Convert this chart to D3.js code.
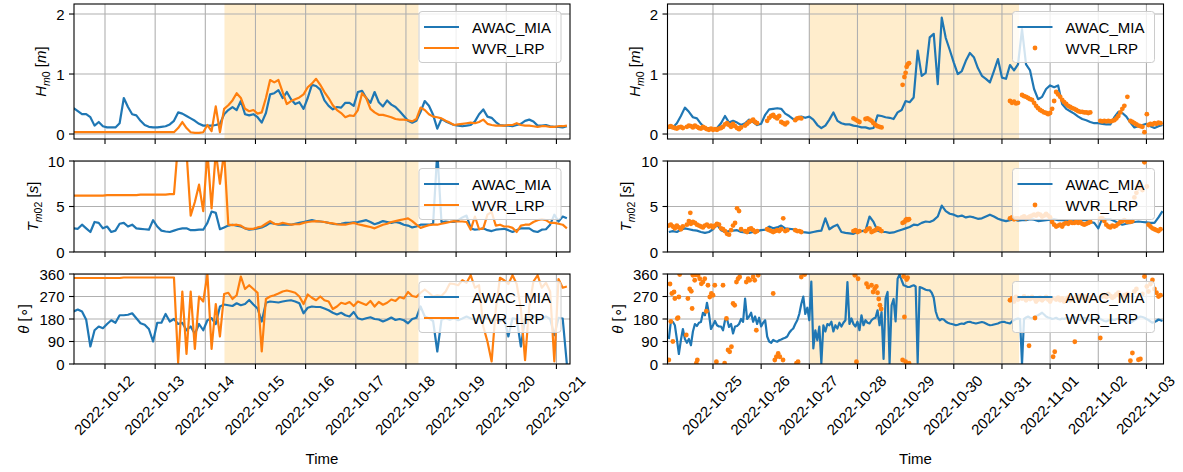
<!DOCTYPE html>
<html>
<head>
<meta charset="utf-8">
<script src="https://cdn.jsdelivr.net/npm/d3@7"></script>
<style>
  body { margin: 0; background: #fff; }
  svg { display: block; font-family: "Liberation Sans", Arial, sans-serif; }
</style>
</head>
<body>
<div id="chart"></div>
<script>
// ---- data ----
// left column: one value every 2 h from 2022-10-11 09:00
// right column: one value every 2 h from 2022-10-24 02:00 (direction: every 1 h)
// WVR_LRP on the right is scattered: [hours since 2022-10-24 02:00, value]

const hsAwacL = [0.43,0.38,0.33,0.33,0.28,0.14,0.20,0.13,0.11,0.11,
  0.11,0.18,0.60,0.45,0.33,0.31,0.22,0.15,0.12,0.11,
  0.11,0.12,0.13,0.16,0.22,0.36,0.34,0.30,0.26,0.22,
  0.17,0.14,0.14,0.14,0.15,0.17,0.33,0.40,0.45,0.40,
  0.55,0.33,0.31,0.33,0.28,0.19,0.35,0.66,0.68,0.73,
  0.60,0.70,0.58,0.50,0.53,0.42,0.60,0.82,0.80,0.74,
  0.56,0.47,0.41,0.45,0.44,0.52,0.52,0.47,0.70,0.72,
  0.60,0.52,0.70,0.53,0.46,0.56,0.49,0.45,0.38,0.30,
  0.22,0.19,0.22,0.37,0.55,0.47,0.32,0.09,0.25,0.21,
  0.18,0.15,0.14,0.13,0.14,0.15,0.21,0.33,0.41,0.29,
  0.27,0.20,0.15,0.14,0.14,0.13,0.15,0.17,0.22,0.24,
  0.21,0.14,0.14,0.15,0.13,0.12,0.12,0.11,0.13];

const hsWvrL = [0.03,0.03,0.03,0.03,0.03,0.03,0.03,0.03,0.03,0.03,
  0.03,0.03,0.03,0.03,0.03,0.03,0.03,0.03,0.03,0.03,
  0.03,0.03,0.03,0.03,0.03,0.10,0.20,0.10,0.03,0.02,
  0.02,0.03,0.15,0.05,0.46,0.03,0.42,0.48,0.56,0.68,
  0.60,0.42,0.38,0.40,0.34,0.36,0.60,0.90,0.86,0.90,
  0.70,0.50,0.55,0.58,0.61,0.66,0.78,0.84,0.92,0.82,
  0.70,0.60,0.48,0.40,0.35,0.28,0.31,0.30,0.40,0.68,
  0.60,0.42,0.36,0.32,0.32,0.30,0.28,0.25,0.24,0.24,
  0.23,0.21,0.25,0.44,0.40,0.33,0.29,0.28,0.26,0.22,
  0.19,0.15,0.16,0.17,0.18,0.19,0.18,0.20,0.24,0.17,
  0.15,0.14,0.14,0.14,0.15,0.15,0.18,0.15,0.14,0.14,
  0.13,0.12,0.13,0.13,0.12,0.12,0.13,0.13,0.14];

const tpAwacL = [2.6,2.55,3.0,2.6,2.2,3.3,3.2,2.6,2.8,2.2,
  2.35,3.1,3.2,2.8,3.0,2.6,2.55,2.5,2.45,3.5,
  2.8,2.35,2.25,2.2,2.35,2.5,2.6,2.6,2.4,2.4,
  2.45,2.45,3.2,4.45,4.3,2.5,2.7,2.9,3.0,2.9,
  2.8,2.6,2.45,2.5,2.6,2.7,2.9,3.2,3.1,3.0,
  3.0,3.0,3.0,3.1,3.2,3.3,3.4,3.5,3.4,3.35,
  3.3,3.2,3.1,3.05,3.1,3.2,3.2,3.25,3.3,3.4,
  3.5,3.3,3.05,3.2,3.4,3.3,3.2,3.3,3.2,3.0,
  2.9,2.7,2.8,3.0,3.0,3.0,3.1,11,3.3,3.35,
  3.3,3.3,3.5,3.8,4.0,2.6,2.45,2.5,2.6,2.4,
  2.3,2.45,2.5,2.55,2.4,2.2,2.4,2.6,2.6,2.6,
  2.3,2.2,2.45,2.5,3.0,4.1,3.35,3.9,3.7];

const tpWvrL = [6.2,6.2,6.2,6.2,6.2,6.2,6.2,6.2,6.25,6.25,
  6.25,6.25,6.25,6.25,6.25,6.25,6.3,6.3,6.3,6.3,
  6.3,6.3,6.3,6.35,6.35,12,12,11,4.0,5.5,
  7.4,4.5,11,4.8,11,7.5,11,3.0,2.95,3.0,
  2.9,2.6,2.55,2.55,2.7,2.8,3.1,3.4,3.1,3.05,
  3.2,3.1,3.0,3.05,3.05,3.2,3.3,3.35,3.4,3.35,
  3.3,3.2,3.15,3.05,3.0,3.0,3.1,3.2,3.05,2.95,
  2.85,2.75,2.6,2.8,3.0,3.1,3.3,3.4,3.5,3.6,
  3.7,3.4,3.0,2.65,2.8,2.95,3.0,3.0,3.1,3.2,
  3.3,3.4,3.35,3.35,3.3,2.45,3.9,2.5,2.6,4.1,
  4.4,2.9,3.0,2.8,2.8,2.65,2.2,2.9,3.0,3.0,
  3.3,3.5,3.6,3.5,3.2,3.2,3.1,3.0,2.6];

const thAwacL = [210,218,210,177,70,135,150,143,160,175,
  165,195,195,197,203,183,163,157,140,90,
  165,165,200,170,180,160,165,135,150,120,
  160,135,175,183,160,230,238,235,232,243,
  235,240,256,238,222,170,245,250,248,246,
  250,253,255,250,243,203,225,230,228,228,
  222,215,205,198,205,195,190,208,183,178,
  183,187,180,178,170,177,186,176,180,175,
  163,180,185,230,190,183,172,50,177,183,
  177,183,175,182,190,182,177,183,190,182,
  177,178,172,183,110,183,180,70,183,187,
  193,183,179,190,180,115,185,182,0];

const thWvrL = [344,344,344,344,344,344,344,344,344,344,
  344,344,346,346,346,346,346,346,346,346,
  346,346,346,346,346,5,290,40,290,60,
  270,250,360,60,240,110,280,285,260,275,
  350,300,315,300,285,50,260,270,275,282,
  290,294,290,285,270,240,278,265,255,270,
  255,250,220,230,245,240,248,232,250,243,
  236,252,230,248,237,245,258,252,268,262,
  288,272,268,285,298,285,270,275,272,290,
  322,320,315,335,325,355,305,315,150,90,
  10,220,345,335,320,355,320,220,15,230,
  330,355,305,325,290,10,340,305,310];

const hsAwacR = [0.10,0.11,0.18,0.30,0.44,0.37,0.28,0.26,0.17,0.10,
  0.10,0.08,0.10,0.18,0.30,0.19,0.22,0.19,0.15,0.18,
  0.24,0.20,0.15,0.17,0.32,0.41,0.42,0.43,0.42,0.34,
  0.30,0.25,0.26,0.29,0.27,0.29,0.24,0.15,0.10,0.14,
  0.24,0.36,0.22,0.18,0.16,0.16,0.14,0.13,0.11,0.11,
  0.09,0.10,0.31,0.30,0.28,0.27,0.25,0.36,0.40,0.55,
  0.53,0.61,1.39,0.97,1.02,1.61,1.67,0.83,1.94,1.60,
  1.40,1.19,1.00,1.05,1.22,1.35,1.28,1.10,0.97,0.92,
  0.86,1.05,1.25,0.94,0.92,1.15,1.06,1.16,1.75,1.16,
  1.06,0.75,0.58,0.62,0.75,0.81,0.78,0.81,0.50,0.42,
  0.38,0.34,0.29,0.25,0.23,0.20,0.18,0.18,0.17,0.16,
  0.16,0.28,0.37,0.35,0.29,0.19,0.11,0.13,0.15,0.17,
  0.13,0.10,0.13,0.15];

const tpAwacR = [2.2,2.3,2.2,2.45,2.6,2.5,2.4,2.35,2.2,2.1,
  2.2,2.5,3.0,2.4,2.2,2.3,2.35,2.4,2.2,2.15,
  2.1,2.2,2.3,2.4,2.45,2.8,2.6,2.7,2.9,2.6,
  2.55,2.5,2.25,2.2,2.15,2.1,2.2,2.3,2.35,3.7,
  2.5,2.8,3.0,2.2,2.1,2.05,2.0,2.2,2.3,2.35,
  3.9,3.3,2.35,2.2,2.2,2.1,2.15,2.3,2.45,2.6,
  2.75,3.0,2.95,3.2,3.35,3.3,3.5,3.9,5.1,4.5,
  4.2,4.1,3.9,4.0,3.8,3.9,3.8,3.65,3.7,3.9,
  4.1,3.9,3.65,3.5,3.4,3.5,3.6,3.45,3.5,3.5,
  3.6,3.55,3.4,3.45,3.5,3.55,3.6,3.5,3.5,3.45,
  3.35,3.4,3.4,3.5,3.5,3.3,3.2,2.6,3.7,3.6,
  3.6,3.4,3.2,3.0,3.1,3.2,3.3,3.35,3.3,3.25,
  3.2,3.2,3.8,4.5];

// hourly
const thAwacR = [100,170,169,155,100,40,95,140,100,85,
  100,75,130,160,152,165,168,205,195,245,
  200,140,155,172,155,150,150,135,175,180,
  148,160,122,150,152,160,180,169,262,180,
  190,205,169,190,160,185,150,165,175,110,
  90,85,96,92,89,95,98,102,105,110,
  125,135,142,160,175,200,240,270,200,225,
  175,330,62,135,95,150,3,155,130,160,
  155,169,130,155,142,165,150,165,175,328,
  160,182,160,150,169,135,195,155,175,165,
  162,175,182,185,215,155,208,20,262,288,
  3,235,260,170,341,358,335,315,312,308,
  308,312,315,310,5,308,305,301,297,295,
  295,285,265,210,185,175,180,178,170,165,
  162,160,158,155,157,160,162,160,165,168,
  169,166,164,162,164,166,168,166,162,158,
  155,156,158,160,162,166,168,169,166,164,
  162,170,176,180,182,180,0,
  180,186,190,185,182,188,192,195,200,205,198,190,186,184,180,182,185,180,178,182,
  180,184,182,178,185,188,183,178,175,180,185,182,178,172,176,180,184,185,180,176,
  172,170,174,176,178,176,180,182,180,178,176,172,168,165,170,175,180,186,190,188,
  185,180,176,170,165,168,172,178,175,172];

const hsWvrR = [[0,0.12],[1,0.13],[2,0.11],[3,0.10],[4,0.09],[5,0.11],[6,0.12],[7,0.10],
  [9,0.12],[10,0.14],[11,0.13],[12,0.11],[13,0.14],[14,0.12],[15,0.10],[16,0.09],[17,0.12],
  [18,0.10],[19,0.08],[20,0.07],[21,0.09],[22,0.07],[23,0.08],[24,0.07],[25,0.09],
  [26,0.10],[27,0.12],[28,0.16],[29,0.18],[30,0.15],[31,0.12],[32,0.17],[33,0.13],[34,0.10],
  [35,0.08],[36,0.11],[38,0.14],[39,0.17],[40,0.20],[41,0.22],[42,0.24],[43,0.20],[44,0.18],
  [49,0.22],[50,0.27],[51,0.30],[52,0.32],[53,0.28],[54,0.26],[55,0.30],[56,0.20],[57,0.18],
  [58,0.16],[59,0.19],[63,0.23],[64,0.26],[65,0.27],[66,0.26],
  [92,0.26],[93,0.24],[94,0.22],[95,0.20],[98,0.25],[99,0.26],[100,0.24],[101,0.22],
  [102,0.18],[103,0.15],[104,0.13],[105,0.12],[106,0.11],
  [116.5,0.82],[117.4,0.95],[118,1.02],[118.5,1.12],[119,1.16],[119.7,1.18],
  [170,0.55],[171,0.52],[172,0.54],[173,0.51],[174,0.52],[176,0.65],[177,0.63],[178,0.62],
  [179,0.60],[180,0.58],[181,0.57],[182,0.52],[183,0.47],[184,0.43],[185,0.40],[186,0.38],
  [187,0.36],[188,0.35],[189,0.33],[190,0.35],[191,0.42],[192,0.55],[193,0.70],[194,0.66],
  [195,0.62],[196,0.57],[197,0.53],[198,0.50],[199,0.47],[200,0.45],[201,0.43],[202,0.42],
  [203,0.40],[204,0.38],[205,0.37],[206,0.37],[207,0.36],[208,0.36],[209,0.35],[210,0.36],
  [215,0.22],[216,0.21],[217,0.22],[218,0.21],[219,0.22],[220,0.21],[221,0.22],[222,0.23],
  [223,0.26],[224,0.30],[225,0.36],[226,0.42],[227,0.47],[228.5,0.62],
  [230,0.22],[231,0.20],[232,0.18],[233,0.16],[234,0.14],[235,0.13],[236,0.12],
  [237,0.03],[238.2,0.33],[239,0.15],[240,0.17],[241,0.16],[242,0.18],[243,0.17],[244,0.19],[245,0.18]];

const tpWvrR = [[0,2.9],[1,3.0],[2,2.8],[3,2.6],[4,2.9],[5,2.7],[6,2.5],[7,2.8],
  [9,3.0],[10,3.4],[10.7,4.3],[11,3.1],[12,3.3],[13,3.2],[14,3.0],[15,2.9],[16,2.8],[17,2.7],
  [18,2.9],[19,3.0],[20,2.8],[21,2.9],[22,2.7],[23,2.9],[24,3.1],[25,3.0],
  [26,2.6],[27,2.5],[28,2.3],[29,2.0],[30,1.9],[31,2.4],[32,2.9],[33,3.2],[34,4.8],[35,4.5],[36,2.5],
  [38,2.3],[39,2.2],[40,2.5],[41,2.6],[42,2.4],[43,2.2],[44,2.3],
  [49,2.5],[50,2.4],[51,2.3],[52,2.2],[53,2.3],[54,2.4],[55,2.3],[56,2.5],[57,3.7],[58,2.3],[59,2.4],
  [63,2.4],[64,2.3],[65,2.3],[66,2.2],
  [92,2.3],[93,2.4],[94,2.2],[95,2.3],[98,2.3],[99,2.5],[100,2.6],[101,2.2],[102,2.3],
  [103,2.4],[104,2.6],[105,2.5],[106,2.3],
  [116.5,3.2],[117.4,3.3],[118,3.5],[118.5,3.6],[119,3.5],[119.7,3.6],
  [170,3.7],[171,3.8],[172,3.6],[173,3.7],[174,3.7],[176,3.8],[177,3.9],[178,3.7],[179,3.8],
  [180,3.9],[181,4.0],[182,4.1],[183,4.0],[184,4.2],[185,4.1],[186,3.9],[187,4.0],[188,4.2],
  [189,4.0],[190,3.8],[191,3.3],[192,3.0],[193,2.8],[194,2.9],[195,3.0],[196,2.8],[197,3.1],
  [198,3.2],[199,3.1],[200,3.3],[201,3.2],[202,3.2],[203,3.3],[204,3.2],[205,3.3],[206,3.1],
  [207,3.0],[208,3.1],[209,3.2],[210,3.3],
  [215,3.7],[216,3.7],[217,3.4],[218,3.0],[219,2.8],[220,2.7],[221,2.9],[222,2.8],
  [223,2.9],[224,3.1],[225,3.3],[226,3.4],[227,3.5],[228.5,3.3],
  [230,3.3],[231,3.4],[232,6.0],[233,6.5],[234,7.0],[235,7.5],[236,6.8],[237,9.85],[238.2,7.2],
  [239,3.0],[240,2.8],[241,2.6],[242,2.5],[243,2.4],[244,2.3],[245,2.5]];

const thWvrR = [[0,16],[0.6,320],[1,170],[1.5,282],[2,90],[2.6,288],[3,262],[4.2,182],[4.6,185],
  [5,268],[5.4,358],[8.7,116],[9.5,262],[10.4,300],[11.2,291],[11.6,222],[12,355],[12.9,335],
  [13.2,357],[13.7,3],[14.2,16],[14.5,355],[15.4,341],[16.2,321],[17,328],[17.9,341],[18.7,211],
  [19.5,315],[20.4,268],[21.2,282],[22,275],[22.9,315],[23.7,9],
  [27,315],[27.8,3],[28.7,182],[29.5,56],[30.3,49],[31.2,69],[32,242],[32.8,235],[33.7,328],
  [34.5,341],[35.3,348],[38.6,328],[39.5,341],[40.3,335],[42,348],[42.8,335],[43.6,135],[44.5,355],
  [52,282],[52.8,16],[53.6,29],[54.5,42],[55.3,29],[56.9,16],[63.6,3],[64.4,9],[66,348],[67.7,358],
  [92.7,355],[93.5,9],[94.3,341],[98.5,321],[99.3,308],[101,315],[101.8,288],[102.6,301],
  [103.4,310],[104,285],[104.6,260],[105.2,235],[105.8,220],
  [116.5,16],[117,350],[117.4,188],[118,9],[118.5,338],[119,345],[119.7,3],
  [170,255],[171,262],[172,250],[173,268],[174,258],[176,262],[177,270],[178,255],[179,265],
  [179.5,73],[180,260],[181,268],[182,262],[183,250],[184,258],[185,265],[186,255],[187,262],
  [188,268],[189,258],[190,250],[191,262],[191.5,29],[192.3,49],[193,258],[194,265],[195,255],
  [196,262],[197,250],[198,258],[199,265],[200,255],[201,260],[202.3,89],[203,268],[204,262],
  [205,272],[206,265],[207,270],[208,262],[209,258],[210,265],
  [215,104],[216,270],[217,275],[218,268],[219,280],[220,272],[221,265],[222,270],[223,278],
  [224,285],[225,272],[226,268],[227,275],[228.5,280],[230,13],[231,44],[232,290],[233,300],
  [234,17],[235,20],[236,280],[237,350],[238.2,310],[239,290],[240,320],[241,336],[242,300],
  [243,285],[244,270],[245,275]];

const seriesNames = ["AWAC_MIA", "WVR_LRP"];
const hTicks = [0, 1, 2];
const tTicks = [0, 5, 10];
const dTicks = [0, 90, 180, 270, 360];

// ---- layout ----
const width = 1183, height = 472;
const blue = "#1f77b4", orange = "#ff7f0e";
const leftStart = new Date(2022, 9, 11, 9, 0);
const rightStart = new Date(2022, 9, 24, 2, 0);

function onGrid(start, step, values) {
  return values.map((v, i) => [d3.timeHour.offset(start, step * i), v]);
}
function atHours(start, pairs) {
  return pairs.map(p => [new Date(+start + p[0] * 3600e3), p[1]]);
}

var cols = [
  {
    left: 74, right: 570,
    domain: [new Date(2022, 9, 11, 9, 10), new Date(2022, 9, 21, 6, 30)],
    firstDay: new Date(2022, 9, 12), lastDay: new Date(2022, 9, 21),
    span: [new Date(2022, 9, 14, 9, 10), new Date(2022, 9, 18, 6, 0)],
    dots: false,
    series: [
      [onGrid(leftStart, 2, hsAwacL), onGrid(leftStart, 2, hsWvrL)],
      [onGrid(leftStart, 2, tpAwacL), onGrid(leftStart, 2, tpWvrL)],
      [onGrid(leftStart, 2, thAwacL), onGrid(leftStart, 2, thWvrL)]
    ]
  },
  {
    left: 667.5, right: 1163.5,
    domain: [new Date(2022, 9, 24, 1, 20), new Date(2022, 10, 3, 8, 30)],
    firstDay: new Date(2022, 9, 25), lastDay: new Date(2022, 10, 3),
    span: [new Date(2022, 9, 27, 0, 0), new Date(2022, 9, 31, 8, 30)],
    dots: true,
    series: [
      [onGrid(rightStart, 2, hsAwacR), atHours(rightStart, hsWvrR)],
      [onGrid(rightStart, 2, tpAwacR), atHours(rightStart, tpWvrR)],
      [onGrid(rightStart, 1, thAwacR), atHours(rightStart, thWvrR)]
    ]
  }
];

var rows = [
  { top: 4, bottom: 139, domain: [-0.083, 2.167], ticks: hTicks,
    label: [["H", 1, 0], ["m", 1, 1], ["0", 0, 1], [" [", 0, 0], ["m", 1, 0], ["]", 0, 0]] },
  { top: 161, bottom: 252, domain: [0, 10], ticks: tTicks,
    label: [["T", 1, 0], ["m", 1, 1], ["02", 0, 1], [" [", 0, 0], ["s", 1, 0], ["]", 0, 0]] },
  { top: 274, bottom: 364, domain: [0, 360], ticks: dTicks,
    label: [["\u03b8", 1, 0], [" [", 0, 0], ["\u2218", 0, 0], ["]", 0, 0]] }
];

var svg = d3.select("#chart")
  .append("svg")
  .attr("width", width)
  .attr("height", height);

var defs = svg.append("defs");
var fs = 15;

cols.forEach(function (col, ci) {
  var x = d3.scaleTime().domain(col.domain).range([col.left, col.right]);
  var days = d3.timeDay.range(col.firstDay, d3.timeDay.offset(col.lastDay, 1));

  rows.forEach(function (row, ri) {
    var y = d3.scaleLinear().domain(row.domain).range([row.bottom, row.top]);
    var g = svg.append("g");

    var clipId = "clip" + ci + ri;
    defs.append("clipPath").attr("id", clipId)
      .append("rect")
      .attr("x", col.left).attr("y", row.top)
      .attr("width", col.right - col.left)
      .attr("height", row.bottom - row.top);

    var plot = g.append("g").attr("clip-path", "url(#" + clipId + ")");

    // event window
    plot.append("rect")
      .attr("x", x(col.span[0]))
      .attr("width", x(col.span[1]) - x(col.span[0]))
      .attr("y", row.top)
      .attr("height", row.bottom - row.top)
      .attr("fill", "#ffa500")
      .attr("fill-opacity", 0.2);

    // grid
    plot.selectAll(".vgrid").data(days).join("line")
      .attr("x1", d => x(d)).attr("x2", d => x(d))
      .attr("y1", row.top).attr("y2", row.bottom)
      .attr("stroke", "#b0b0b0").attr("stroke-width", 1.1);
    plot.selectAll(".hgrid").data(row.ticks).join("line")
      .attr("x1", col.left).attr("x2", col.right)
      .attr("y1", d => y(d)).attr("y2", d => y(d))
      .attr("stroke", "#b0b0b0").attr("stroke-width", 1.1);

    var line = d3.line().x(d => x(d[0])).y(d => y(d[1]));
    var awac = col.series[ri][0], wvr = col.series[ri][1];

    plot.append("path").datum(awac)
      .attr("d", line)
      .attr("fill", "none").attr("stroke", blue)
      .attr("stroke-width", 2.2).attr("stroke-linejoin", "round");

    if (col.dots) {
      plot.append("g").selectAll("circle").data(wvr).join("circle")
        .attr("cx", d => x(d[0])).attr("cy", d => y(d[1]))
        .attr("r", 2.4).attr("fill", orange);
    } else {
      plot.append("path").datum(wvr)
        .attr("d", line)
        .attr("fill", "none").attr("stroke", orange)
        .attr("stroke-width", 2.2).attr("stroke-linejoin", "round");
    }

    // legend
    var lw = 142, lh = 51;
    var lx = col.right - 9 - lw, ly = row.top + 7.5;
    var leg = g.append("g").attr("transform", "translate(" + lx + "," + ly + ")");
    leg.append("rect")
      .attr("width", lw).attr("height", lh).attr("rx", 3)
      .attr("fill", "#fff").attr("fill-opacity", 0.8)
      .attr("stroke", "#cccccc").attr("stroke-width", 1);
    seriesNames.forEach(function (name, k) {
      var cy = 15.5 + k * 21;
      var color = k === 0 ? blue : orange;
      if (k === 1 && col.dots) {
        leg.append("circle").attr("cx", 22.5).attr("cy", cy).attr("r", 2.4).attr("fill", color);
      } else {
        leg.append("line").attr("x1", 5).attr("x2", 40).attr("y1", cy).attr("y2", cy)
          .attr("stroke", color).attr("stroke-width", 2.2);
      }
      leg.append("text").attr("x", 53).attr("y", cy)
        .attr("dominant-baseline", "central")
        .attr("font-size", fs).text(name);
    });

    // spines
    g.append("rect")
      .attr("x", col.left).attr("y", row.top)
      .attr("width", col.right - col.left).attr("height", row.bottom - row.top)
      .attr("fill", "none").attr("stroke", "#000").attr("stroke-width", 1.1);

    // x ticks
    g.selectAll(".xt").data(days).join("line")
      .attr("x1", d => x(d)).attr("x2", d => x(d))
      .attr("y1", row.bottom).attr("y2", row.bottom + 5)
      .attr("stroke", "#000").attr("stroke-width", 1.1);

    // y ticks + labels
    g.selectAll(".yt").data(row.ticks).join("line")
      .attr("x1", col.left - 5).attr("x2", col.left)
      .attr("y1", d => y(d)).attr("y2", d => y(d))
      .attr("stroke", "#000").attr("stroke-width", 1.1);
    var minLeft = col.left;
    g.selectAll(".ytl").data(row.ticks).join("text")
      .attr("x", col.left - 9.5).attr("y", d => y(d))
      .attr("text-anchor", "end").attr("dominant-baseline", "central")
      .attr("font-size", fs)
      .text(d => d)
      .each(function () { minLeft = Math.min(minLeft, this.getBBox().x); });

    // y label
    var yl = g.append("text")
      .attr("transform", "translate(" + (minLeft - 10) + "," + ((row.top + row.bottom) / 2) + ") rotate(-90)")
      .attr("text-anchor", "middle")
      .attr("font-size", fs);
    var shifted = false;
    row.label.forEach(function (p) {
      var ts = yl.append("tspan").text(p[0]);
      if (p[1]) ts.attr("font-style", "italic");
      if (p[2]) {
        ts.attr("font-size", fs * 0.7);
        if (!shifted) { ts.attr("dy", 4); shifted = true; }
      } else if (shifted) {
        ts.attr("dy", -4); shifted = false;
      }
    });

    // date labels on the bottom row
    if (ri === rows.length - 1) {
      var fmt = d3.timeFormat("%Y-%m-%d");
      var y0 = row.bottom + 10;
      g.selectAll(".xtl").data(days).join("text")
        .attr("text-anchor", "middle")
        .attr("font-size", fs)
        .text(d => fmt(d))
        .each(function (d) {
          var w = this.getComputedTextLength();
          var a = 11, dsc = 3.2;
          var ax = x(d) + 0.354 * (a - dsc);
          var ay = y0 + 0.707 * (w / 2 + a);
          d3.select(this).attr("x", ax).attr("y", ay)
            .attr("transform", "rotate(-45," + ax + "," + ay + ")");
        });
      g.append("text")
        .attr("x", (col.left + col.right) / 2).attr("y", 464)
        .attr("text-anchor", "middle").attr("font-size", fs)
        .text("Time");
    }
  });
});
</script>
</body>
</html>
